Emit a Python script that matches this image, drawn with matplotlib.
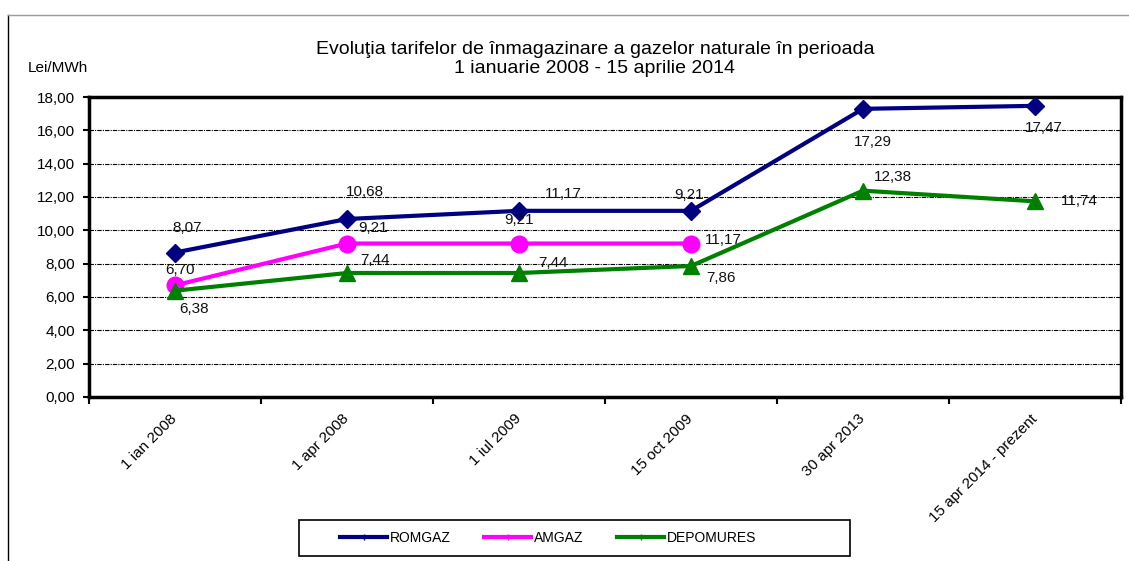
# Evolutia tarifelor de inmagazinare a gazelor naturale 2008-2014

import matplotlib
matplotlib.use('Agg')
import matplotlib.pyplot as plt
from matplotlib.lines import Line2D
from matplotlib.patches import Rectangle

plt.rcParams['font.family'] = ['Liberation Sans', 'DejaVu Sans']

# data
categories = ['1 ian 2008', '1 apr 2008', '1 iul 2009', '15 oct 2009',
              '30 apr 2013', '15 apr 2014 - prezent']
romgaz = [8.67, 10.68, 11.17, 11.17, 17.29, 17.47]
amgaz = [6.70, 9.21, 9.21, 9.21]
depomures = [6.38, 7.44, 7.44, 7.86, 12.38, 11.74]

# data labels as printed in the original chart
romgaz_labels = ['8,07', '10,68', '11,17', '9,21', '17,29', '17,47']
amgaz_labels = ['6,70', '9,21', '9,21', '11,17']
depomures_labels = ['6,38', '7,44', '7,44', '7,86', '12,38', '11,74']

yticks = [0, 2, 4, 6, 8, 10, 12, 14, 16, 18]

# label offsets in pixels (dx, dy), y up
romgaz_off = [(12, 25), (18, 27), (44, 17), (-2, 16), (10, -33), (9, -22)]
amgaz_off = [(5, 15), (26, 15), (0, 24), (32, 3)]
depomures_off = [(19, -18), (28, 13), (34, 10), (30, -12), (30, 14), (44, 0)]

fig = plt.figure(figsize=(11.29, 5.61), dpi=100)
ax = fig.add_axes([89 / 1129, 1 - 397 / 561, 1032 / 1129, 300 / 561])

series = [
    ('ROMGAZ', romgaz, romgaz_labels, romgaz_off, '#000080', 'D', 9),
    ('AMGAZ', amgaz, amgaz_labels, amgaz_off, '#FF00FF', 'o', 12),
    ('DEPOMURES', depomures, depomures_labels, depomures_off, '#008000', '^', 11),
]

handles = []
for name, vals, labs, offs, col, mk, ms in series:
    x = list(range(len(vals)))
    ax.plot(x, vals, color=col, linewidth=3, marker=mk, markersize=ms,
            markeredgecolor=col, zorder=3)
    for xi, v, s, (dx, dy) in zip(x, vals, labs, offs):
        ax.annotate(s, xy=(xi, v), xytext=(dx, dy), textcoords='offset pixels',
                    ha='center', va='center', fontsize=11, color='#111111',
                    zorder=4)
    handles.append(Line2D([], [], color=col, linewidth=3, marker='|',
                          markersize=5, label=name))

ax.set_xlim(-0.5, len(categories) - 0.5)
ax.set_ylim(0, 18)

# y axis
ax.set_yticks(yticks)
ax.set_yticklabels([('%.2f' % t).replace('.', ',') for t in yticks])
ax.tick_params(axis='y', direction='out', length=4, width=1.5, labelsize=11,
               pad=6)
ax.grid(axis='y', color='black', linewidth=0.8, linestyle=(0, (4, 1, 1, 1)))

# x axis: labels at centres, tick marks at boundaries
ax.set_xticks(range(len(categories)))
ax.set_xticklabels(categories, rotation=45, ha='right', va='center',
                   rotation_mode='anchor', fontsize=11)
ax.tick_params(axis='x', which='major', length=0, pad=14)
ax.set_xticks([i - 0.5 for i in range(len(categories) + 1)], minor=True)
ax.tick_params(axis='x', which='minor', direction='out', length=5, width=1.5)

for sp in ax.spines.values():
    sp.set_linewidth(2.5)
    sp.set_color('black')

fig.text(595 / 1129, 1 - 59 / 561,
         'Evoluţia tarifelor de înmagazinare a gazelor naturale în perioada\n'
         '1 ianuarie 2008 - 15 aprilie 2014',
         ha='center', va='center', fontsize=14, linespacing=1.2)
fig.text(28 / 1129, 1 - 68 / 561, 'Lei/MWh', ha='left', va='center',
         fontsize=11)

# legend with a hand-drawn box
leg = fig.legend(handles=handles, loc='center left', ncol=3,
                 bbox_to_anchor=(340 / 1129, 1 - 538 / 561), fontsize=10,
                 frameon=False, handlelength=3.4, columnspacing=2.4,
                 handletextpad=0.2, borderpad=0, borderaxespad=0)
fig.add_artist(Rectangle((299 / 1129, 1 - 556 / 561), 551 / 1129, 36 / 561,
                         transform=fig.transFigure, fill=False,
                         edgecolor='black', linewidth=1.2))

# outer chart border
fig.add_artist(Line2D([8 / 1129, 8 / 1129], [0, 1 - 15 / 561],
                      transform=fig.transFigure, color='black', linewidth=1))
fig.add_artist(Line2D([8 / 1129, 1], [1 - 15 / 561, 1 - 15 / 561],
                      transform=fig.transFigure, color='#999999', linewidth=1))

fig.savefig('out.png', dpi=100)
